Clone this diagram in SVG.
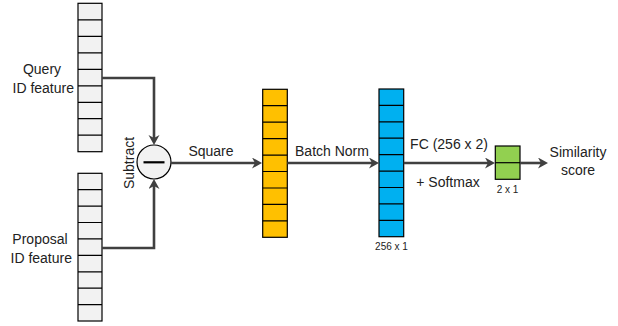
<svg xmlns="http://www.w3.org/2000/svg" width="618" height="326" viewBox="0 0 618 326">
<style>
.cell{stroke:#000;stroke-width:1.2}
.div{stroke:#000;stroke-width:1.2}
.gray{fill:#f2f2f2}
.yel{fill:#ffc000}
.blu{fill:#00b0f0}
.grn{fill:#92d050}
.conn{fill:none;stroke:#404040;stroke-width:2.6;marker-end:url(#arr)}
text{font-family:"Liberation Sans",Arial,sans-serif;font-size:14px;fill:#222}
.small{font-size:10px}
</style>
<defs>
<marker id="arr" markerUnits="userSpaceOnUse" markerWidth="12" markerHeight="12" refX="4" refY="5.5" orient="auto">
<path d="M0,0 L10,5.5 L0,11 L3,5.5 z" fill="#404040"/>
</marker>
</defs>
<rect width="618" height="326" fill="#fff"/>

<g id="query">
<rect class="cell gray" x="78" y="3.3" width="24" height="148.4"/>
<path class="div" d="M78,19.8H102M78,36.3H102M78,52.8H102M78,69.3H102M78,85.8H102M78,102.3H102M78,118.7H102M78,135.2H102"/>
<text x="42" y="74" text-anchor="middle">Query</text>
<text x="74" y="93" text-anchor="end">ID feature</text>
</g>

<g id="proposal">
<rect class="cell gray" x="78" y="173.3" width="24" height="147.7"/>
<path class="div" d="M78,189.7H102M78,206.1H102M78,222.5H102M78,238.9H102M78,255.4H102M78,271.8H102M78,288.2H102M78,304.6H102"/>
<text x="40" y="244" text-anchor="middle">Proposal</text>
<text x="72" y="263" text-anchor="end">ID feature</text>
</g>

<g id="subtract">
<circle cx="154" cy="162" r="17" fill="#f2f2f2" stroke="#000" stroke-width="1.2"/>
<line x1="143.5" y1="162.3" x2="164.5" y2="162.3" stroke="#000" stroke-width="2.2"/>
<text transform="translate(134,163) rotate(-90)" text-anchor="middle">Subtract</text>
</g>

<g id="squared">
<rect class="cell yel" x="262.7" y="89.3" width="24.6" height="148"/>
<path class="div" d="M262.7,105.7H287.3M262.7,122.2H287.3M262.7,138.6H287.3M262.7,155.1H287.3M262.7,171.5H287.3M262.7,188H287.3M262.7,204.4H287.3M262.7,220.9H287.3"/>
</g>

<g id="normed">
<rect class="cell blu" x="379" y="89" width="24.7" height="147.7"/>
<path class="div" d="M379,105.4H403.7M379,121.8H403.7M379,138.2H403.7M379,154.6H403.7M379,171.1H403.7M379,187.5H403.7M379,203.9H403.7M379,220.3H403.7"/>
<text class="small" x="391.5" y="250" text-anchor="middle">256 x 1</text>
</g>

<g id="output">
<rect class="cell grn" x="495.3" y="146" width="24.7" height="33.3"/>
<path class="div" d="M495.3,162.7H520"/>
<text class="small" x="507.5" y="193" text-anchor="middle">2 x 1</text>
</g>

<g id="result">
<text x="578" y="157" text-anchor="middle">Similarity</text>
<text x="578" y="175" text-anchor="middle">score</text>
</g>

<g id="connectors">
<path class="conn" d="M102,78H154V139"/>
<path class="conn" d="M102,248H154V185"/>
<path class="conn" d="M171,163H256"/>
<path class="conn" d="M287.3,163H373"/>
<path class="conn" d="M403.7,163H489"/>
<path class="conn" d="M520,163H542"/>
<text x="211" y="156" text-anchor="middle">Square</text>
<text x="332" y="156" text-anchor="middle">Batch Norm</text>
<text x="449" y="149" text-anchor="middle">FC (256 x 2)</text>
<text x="448" y="187" text-anchor="middle">+ Softmax</text>
</g>
</svg>
